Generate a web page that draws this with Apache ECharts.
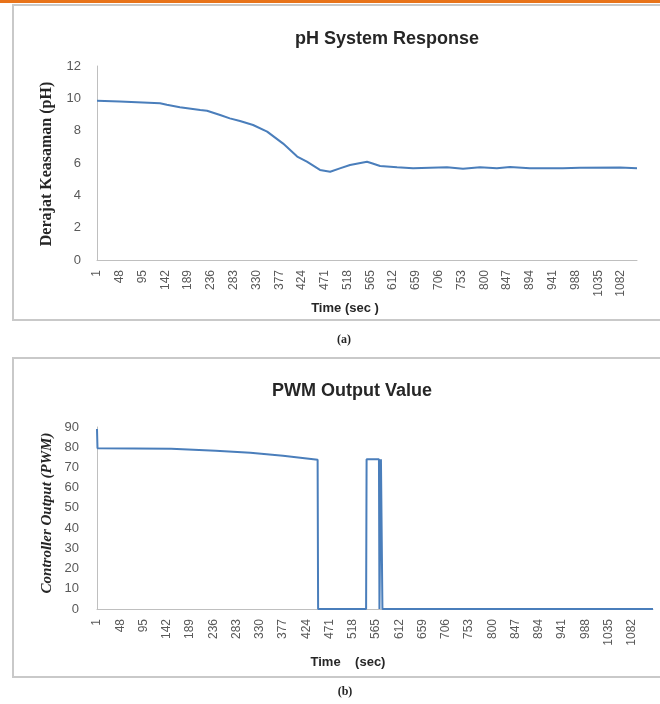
<!DOCTYPE html>
<html>
<head>
<meta charset="utf-8">
<script src="https://cdn.jsdelivr.net/npm/echarts@6/dist/echarts.min.js"></script>
<style>
html,body{margin:0;padding:0;background:#fff;}
#chart{width:660px;height:704px;}
</style>
</head>
<body>
<div id="chart"></div>
<script>
// ---- data ----
const tickLabels = ['1','48','95','142','189','236','283','330','377','424','471','518','565','612','659','706','753','800','847','894','941','988','1035','1082'];
const tickStep = 47;

// (a) pH system response : sample index (0 = t 1) and pH
const phSample = [0, 47, 130, 144, 171, 213, 227, 254, 274, 295, 322, 351, 384, 413, 433, 460, 481, 501, 522, 557, 567, 584, 619, 652, 722, 755, 790, 825, 852, 893, 961, 996, 1079, 1114];
const phValue  = [9.85, 9.8, 9.7, 9.6, 9.45, 9.28, 9.23, 8.97, 8.76, 8.6, 8.35, 7.94, 7.2, 6.4, 6.08, 5.57, 5.46, 5.67, 5.88, 6.08, 5.98, 5.81, 5.73, 5.67, 5.73, 5.65, 5.73, 5.67, 5.75, 5.67, 5.67, 5.7, 5.72, 5.67];

// (b) PWM output value
const pwmSample = [0, 1, 150, 240, 310, 376, 411, 446, 447, 544, 545, 570, 571, 573, 574, 576, 577, 1124];
const pwmValue  = [89, 79.5, 79.3, 78.3, 77.3, 75.8, 74.8, 73.8, 0, 0, 74, 74, 0, 0, 74, 74, 0, 0];

const phMax = 1114, pwmMax = 1124;

// ---- build ----
const pairs = (xs, ys) => xs.map((x, i) => [x, ys[i]]);
const xLabel = v => { const k = v / tickStep; return (Number.isInteger(k) && k < tickLabels.length) ? tickLabels[k] : ''; };
const lblColor = '#595959';
const axisGray = '#bfbfbf';
const lineBlue = '#4a7ebb';

function xAxis(gridIndex, max) {
  return {
    type: 'value', gridIndex, min: 0, max, interval: tickStep,
    axisLine: {show: true, lineStyle: {color: axisGray, width: 1}},
    axisTick: {show: false},
    splitLine: {show: false},
    axisLabel: {rotate: 90, margin: 10, fontSize: 12, color: lblColor, fontFamily: 'Liberation Sans', formatter: xLabel, showMaxLabel: false}
  };
}
function yAxis(gridIndex, max, interval, margin) {
  return {
    type: 'value', gridIndex, min: 0, max, interval,
    axisLine: {show: true, lineStyle: {color: axisGray, width: 1}},
    axisTick: {show: false},
    splitLine: {show: false},
    axisLabel: {margin, fontSize: 13, color: lblColor, fontFamily: 'Liberation Sans'}
  };
}

const chart = echarts.init(document.getElementById('chart'), null, {renderer: 'canvas'});
chart.setOption({
  backgroundColor: '#ffffff',
  animation: false,
  title: [
    {text: 'pH System Response', left: 290, top: 25, textStyle: {fontSize: 18, fontWeight: 'bold', color: '#262626', fontFamily: 'Liberation Sans'}},
    {text: 'PWM Output Value', left: 267, top: 377, textStyle: {fontSize: 18, fontWeight: 'bold', color: '#262626', fontFamily: 'Liberation Sans'}}
  ],
  grid: [
    {left: 97, right: 23, top: 66, bottom: 444, containLabel: false},
    {left: 97, right: 7, top: 427, bottom: 95, containLabel: false}
  ],
  xAxis: [xAxis(0, phMax), xAxis(1, pwmMax)],
  yAxis: [yAxis(0, 12, 2, 16), yAxis(1, 90, 10, 18)],
  series: [
    {type: 'line', xAxisIndex: 0, yAxisIndex: 0, data: pairs(phSample, phValue), showSymbol: false, lineStyle: {color: lineBlue, width: 2}},
    {type: 'line', xAxisIndex: 1, yAxisIndex: 1, data: pairs(pwmSample, pwmValue), showSymbol: false, lineStyle: {color: lineBlue, width: 2}}
  ],
  graphic: [
    {type: 'rect', shape: {x: 0, y: 0, width: 660, height: 3}, style: {fill: '#e8731a'}, z: 0},
    {type: 'rect', shape: {x: 13, y: 5, width: 660, height: 315}, style: {fill: 'none', stroke: '#c9c9c9', lineWidth: 2}, z: 0},
    {type: 'rect', shape: {x: 13, y: 358, width: 660, height: 319}, style: {fill: 'none', stroke: '#c9c9c9', lineWidth: 2}, z: 0},
    {type: 'text', x: 47, y: 164, rotation: Math.PI / 2, style: {text: 'Derajat Keasaman (pH)', font: 'bold 16px "Liberation Serif"', fill: '#262626', textAlign: 'center', textVerticalAlign: 'middle'}},
    {type: 'text', x: 47, y: 513, rotation: Math.PI / 2, style: {text: 'Controller Output (PWM)', font: 'italic bold 15px "Liberation Serif"', fill: '#262626', textAlign: 'center', textVerticalAlign: 'middle'}},
    {type: 'text', x: 345, y: 308, style: {text: 'Time (sec )', font: 'bold 13px "Liberation Sans"', fill: '#262626', textAlign: 'center', textVerticalAlign: 'middle'}},
    {type: 'text', x: 348, y: 662, style: {text: 'Time    (sec)', font: 'bold 13px "Liberation Sans"', fill: '#262626', textAlign: 'center', textVerticalAlign: 'middle'}},
    {type: 'text', x: 344, y: 340, style: {text: '(a)', font: 'bold 12px "Liberation Serif"', fill: '#262626', textAlign: 'center', textVerticalAlign: 'middle'}},
    {type: 'text', x: 345, y: 692, style: {text: '(b)', font: 'bold 12px "Liberation Serif"', fill: '#262626', textAlign: 'center', textVerticalAlign: 'middle'}}
  ]
});
</script>
</body>
</html>
